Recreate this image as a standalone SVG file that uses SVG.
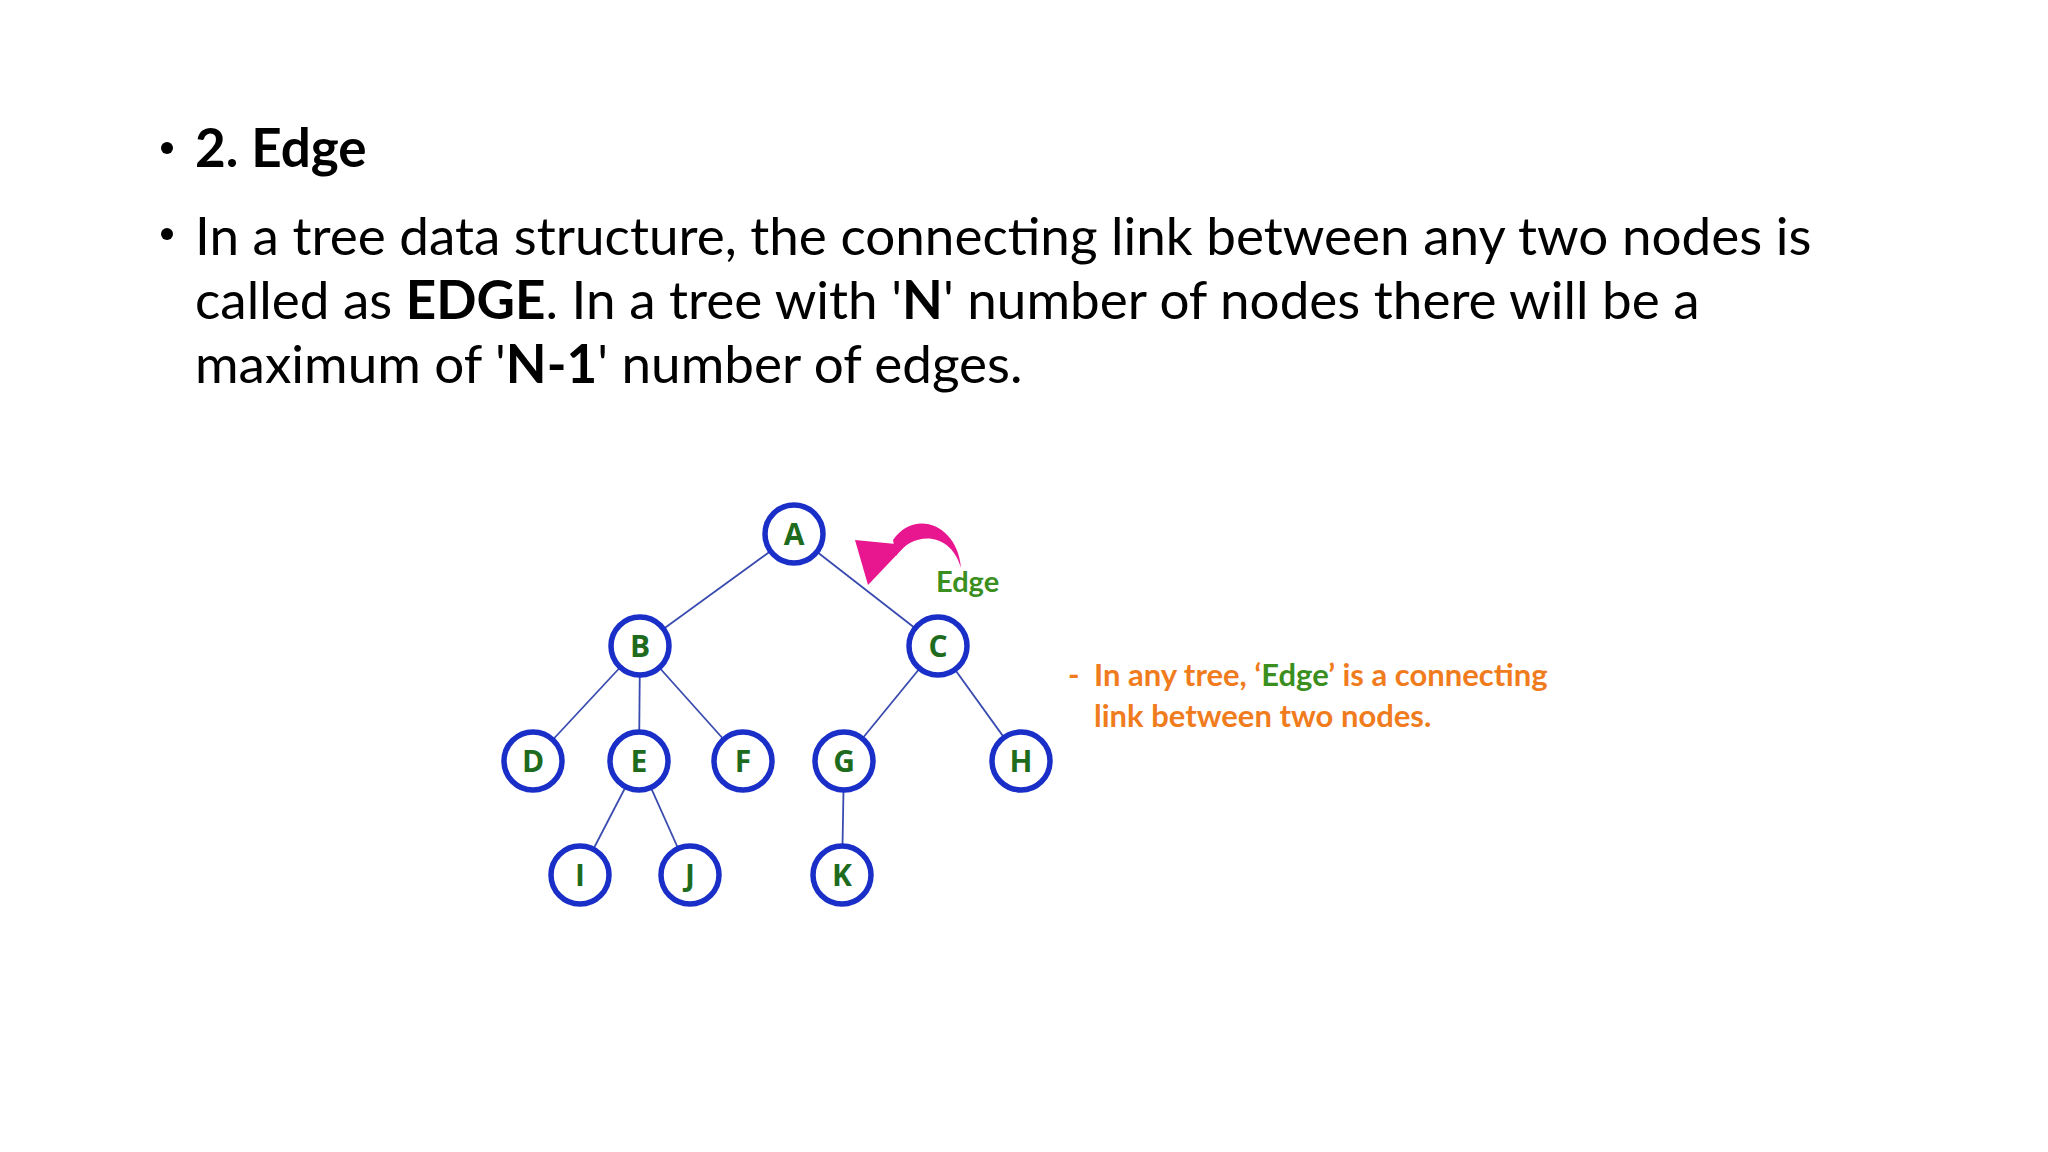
<svg xmlns="http://www.w3.org/2000/svg" width="2048" height="1152" viewBox="0 0 2048 1152">
<style>
.t{font-family:Lato,"Liberation Sans",sans-serif;fill:#000;font-size:53px}
.n circle{fill:#fff;stroke:#1a2fc8;stroke-width:5.5}
.n text{font-family:"Open Sans","Liberation Sans",sans-serif;font-weight:bold;font-size:30px;fill:#1e6b1e;text-anchor:middle}
.e line{stroke:#3a4bb0;stroke-width:1.8}
</style>
<rect width="2048" height="1152" fill="#fff"/>
<g id="text">
<circle cx="167" cy="148" r="6"/>
<text class="t" x="195" y="167" font-weight="bold">2. Edge</text>
<circle cx="167" cy="234" r="6"/>
<text class="t" x="195" y="255">In a tree data structure, the connecting link between any two nodes is</text>
<text class="t" x="195" y="319">called as <tspan font-weight="bold">EDGE</tspan>. In a tree with '<tspan font-weight="bold">N</tspan>' number of nodes there will be a</text>
<text class="t" x="195" y="383">maximum of '<tspan font-weight="bold">N-1</tspan>' number of edges.</text>
</g>
<g id="connectors" class="e">
<line x1="794" y1="534" x2="640" y2="646"/>
<line x1="794" y1="534" x2="938" y2="646"/>
<line x1="640" y1="646" x2="533" y2="761"/>
<line x1="640" y1="646" x2="639" y2="761"/>
<line x1="640" y1="646" x2="743" y2="761"/>
<line x1="938" y1="646" x2="844" y2="761"/>
<line x1="938" y1="646" x2="1021" y2="761"/>
<line x1="639" y1="761" x2="580" y2="875"/>
<line x1="639" y1="761" x2="690" y2="875"/>
<line x1="844" y1="761" x2="842" y2="875"/>
</g>
<g id="A" class="n"><circle cx="794" cy="534" r="29"/><text x="794" y="545">A</text></g>
<g id="B" class="n"><circle cx="640" cy="646" r="29"/><text x="640" y="657">B</text></g>
<g id="C" class="n"><circle cx="938" cy="646" r="29"/><text x="938" y="657">C</text></g>
<g id="D" class="n"><circle cx="533" cy="761" r="29"/><text x="533" y="772">D</text></g>
<g id="E" class="n"><circle cx="639" cy="761" r="29"/><text x="639" y="772">E</text></g>
<g id="F" class="n"><circle cx="743" cy="761" r="29"/><text x="743" y="772">F</text></g>
<g id="G" class="n"><circle cx="844" cy="761" r="29"/><text x="844" y="772">G</text></g>
<g id="H" class="n"><circle cx="1021" cy="761" r="29"/><text x="1021" y="772">H</text></g>
<g id="I" class="n"><circle cx="580" cy="875" r="29"/><text x="580" y="886">I</text></g>
<g id="J" class="n"><circle cx="690" cy="875" r="29"/><text x="690" y="886">J</text></g>
<g id="K" class="n"><circle cx="842" cy="875" r="29"/><text x="842" y="886">K</text></g>
<g id="edge-label">
<path d="M961,568 C958,525 915,508 893,540 L896,556 C912,532 950,530 961,568 Z" fill="#e8168f"/>
<path d="M855,540 L868,585 L906,545 Z" fill="#e8168f"/>
<text x="936" y="592" font-family="Lato,'Liberation Sans',sans-serif" font-weight="bold" font-size="29" fill="#3a8f1e">Edge</text>
</g>
<g id="note" font-family="Lato,'Liberation Sans',sans-serif" font-weight="bold" font-size="31" fill="#f07c1e">
<text x="1068" y="686">-</text>
<text x="1094" y="686">In any tree, ‘<tspan fill="#3a8f1e">Edge</tspan>’ is a connecting</text>
<text x="1094" y="727">link between two nodes.</text>
</g>
</svg>
